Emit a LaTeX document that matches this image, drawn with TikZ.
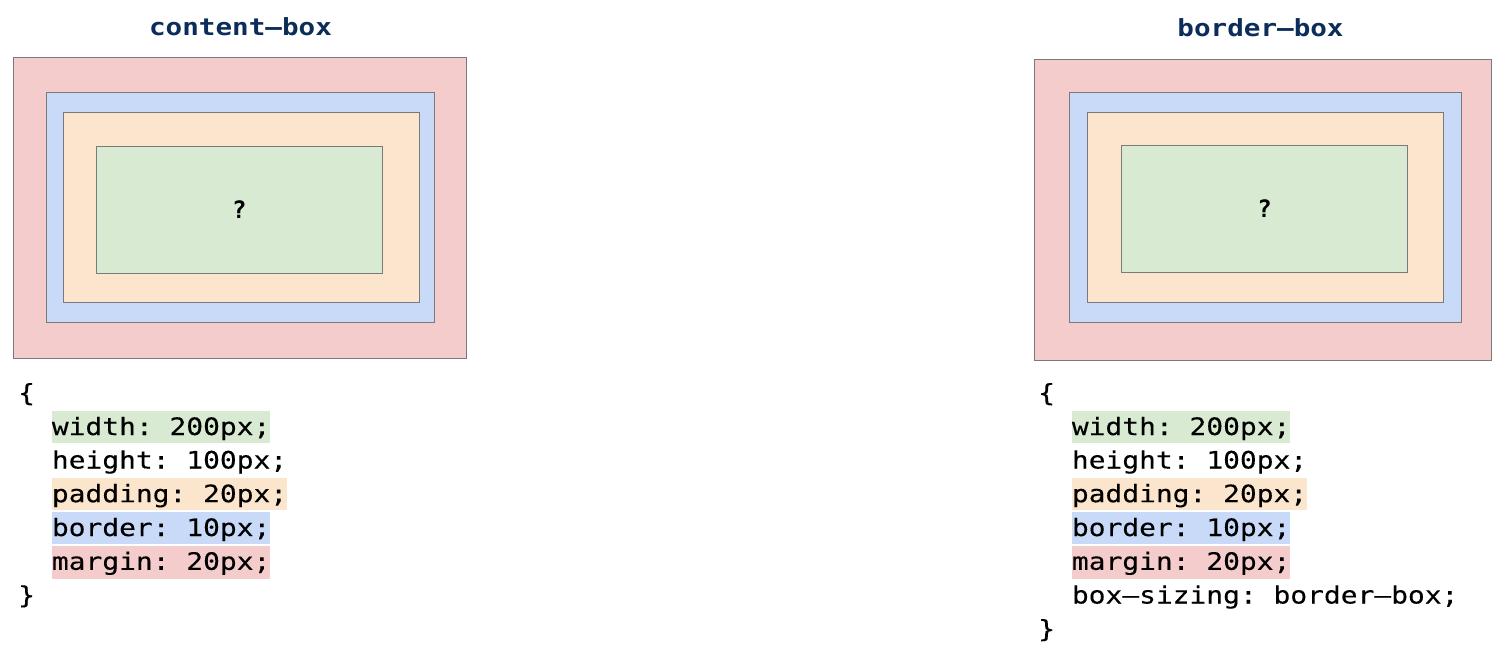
\documentclass[tikz,border=0pt]{standalone}
\usepackage{fontspec}
\newfontfamily\codefont[FakeStretch=1.163,FakeBold=0.2]{DejaVu Sans Mono}
\newfontfamily\titlefont[FakeStretch=1.17]{DejaVu Sans Mono Bold}
\newfontfamily\qfont{DejaVu Sans Mono Bold}
\frenchspacing
\definecolor{mred}{HTML}{F4CCCC}
\definecolor{mblue}{HTML}{C9DAF8}
\definecolor{morange}{HTML}{FCE5CD}
\definecolor{mgreen}{HTML}{D9EAD3}
\definecolor{edgegray}{HTML}{7A7A7A}
\definecolor{titleblue}{RGB}{12,45,90}
\tikzset{
  layer/.style={draw=edgegray, line width=1pt},
  title/.style={font=\titlefont\fontsize{23.6}{28}\selectfont, text=titleblue, inner sep=0pt, anchor=base},
  qmark/.style={font=\qfont\fontsize{24}{28}\selectfont, inner sep=0pt, anchor=base},
  code/.style={font=\codefont\fontsize{24}{28}\selectfont, inner sep=0pt, anchor=base west},
  hl/.style={code, text height=24.3pt, text depth=7.8pt, fill=#1},
}
\begin{document}
\begin{tikzpicture}[x=1pt,y=-1pt]
\useasboundingbox (0,0) rectangle (1502,649);

% ---------- left: content-box ----------
\node[title] (t1) at (240.5,35) {content–box};
\filldraw[layer, fill=mred]    (13.3,57.3)  rectangle (466,358.7);
\filldraw[layer, fill=mblue]   (46.3,92.3)  rectangle (434.7,322);
\filldraw[layer, fill=morange] (63.3,112)   rectangle (419.3,302.3);
\filldraw[layer, fill=mgreen]  (96.3,146.3) rectangle (382.3,273.3);
\node[qmark] (q1) at (239.3,218.5) {?};

\node[code] (l1a) at (18,401.3) {\{};
\node[hl=mgreen]  (l1b) at (51.7,435) {width: 200px;};
\node[code]       (l1c) at (51.7,468.5) {height: 100px;};
\node[hl=morange] (l1d) at (51.7,502.2) {padding: 20px;};
\node[hl=mblue]   (l1e) at (51.7,536) {border: 10px;};
\node[hl=mred, text depth=9pt] (l1f) at (51.7,569.8) {margin: 20px;};
\node[code] (l1g) at (18,603.5) {\}};

% ---------- right: border-box ----------
\node[title] (t2) at (1260.5,36) {border–box};
\filldraw[layer, fill=mred]    (1034.3,59)   rectangle (1491.3,360);
\filldraw[layer, fill=mblue]   (1069.3,92.3) rectangle (1461.7,322.3);
\filldraw[layer, fill=morange] (1087.3,112)  rectangle (1443,302.7);
\filldraw[layer, fill=mgreen]  (1121.3,145)  rectangle (1407.7,272);
\node[qmark] (q2) at (1264.5,217) {?};

\node[code] (r1a) at (1038,401.3) {\{};
\node[hl=mgreen]  (r1b) at (1071.7,435) {width: 200px;};
\node[code]       (r1c) at (1071.7,468.5) {height: 100px;};
\node[hl=morange] (r1d) at (1071.7,502.2) {padding: 20px;};
\node[hl=mblue]   (r1e) at (1071.7,536) {border: 10px;};
\node[hl=mred, text depth=9pt] (r1f) at (1071.7,569.8) {margin: 20px;};
\node[code]       (r1g) at (1071.7,603.5) {box–sizing: border–box;};
\node[code] (r1h) at (1038,637.3) {\}};
\end{tikzpicture}
\end{document}
